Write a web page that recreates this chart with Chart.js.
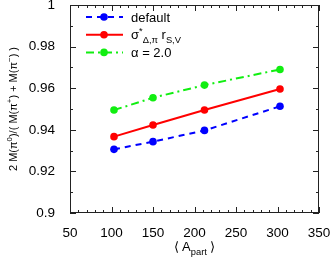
<!DOCTYPE html>
<html lang="en">
<head>
    <meta charset="UTF-8">
    <title>pi0 / charged pion mass ratio</title>
    <script src="https://cdn.jsdelivr.net/npm/chart.js"></script>
    <style>
        body { margin: 0; background: #fff; }
        .chart-container { width: 332px; height: 258px; position: relative; }
    </style>
</head>
<body>
    <div class="chart-container">
        <canvas id="ratioChart"></canvas>
    </div>
<script>
// datos
const aPart = [103, 150, 212, 303];
const ratioDefault = [0.9306, 0.9343, 0.9397, 0.9513];
const ratioSigma = [0.9367, 0.9423, 0.9495, 0.9596];
const ratioAlpha = [0.9495, 0.9554, 0.9615, 0.9690];
const xTicks = [50, 100, 150, 200, 250, 300, 350];
const yTicks = [0.9, 0.92, 0.94, 0.96, 0.98, 1];

const FONT = '"Liberation Sans", Arial, sans-serif';
const BLUE = '#0000ff', RED = '#ff0000', GREEN = '#11ee11';

// texto con sub/superindices: segmentos {t, s:'sub'|'sup'|undefined}
function richWidth(ctx, segs, size) {
    let w = 0;
    segs.forEach(sg => {
        ctx.font = (sg.s ? size * 0.72 : size) + 'px ' + FONT;
        w += ctx.measureText(sg.t).width;
    });
    return w;
}
function drawRich(ctx, segs, x, y, size) {
    ctx.textBaseline = 'alphabetic';
    ctx.textAlign = 'left';
    segs.forEach(sg => {
        let dy = 0;
        if (sg.s === 'sub') dy = size * 0.3;
        if (sg.s === 'sup') dy = -size * 0.42;
        ctx.font = (sg.s ? size * 0.72 : size) + 'px ' + FONT;
        ctx.fillText(sg.t, x, y + dy);
        x += ctx.measureText(sg.t).width;
    });
}

const legendItems = [
    { color: BLUE, dash: [6, 5], segs: [{ t: 'default' }] },
    { color: RED, dash: [], segs: [{ t: 'σ' }, { t: '*', s: 'sup' }, { t: 'Δ,π', s: 'sub' }, { t: ' r' }, { t: 'S,V', s: 'sub' }] },
    { color: GREEN, dash: [8, 4, 2, 4], segs: [{ t: 'α = 2.0' }] }
];

const gnuplotFrame = {
    id: 'gnuplotFrame',
    afterDraw(chart) {
        const ctx = chart.ctx;
        const a = chart.chartArea;
        const xs = chart.scales.x, ys = chart.scales.y;
        ctx.save();
        ctx.strokeStyle = '#222';
        ctx.lineWidth = 1;
        ctx.setLineDash([]);
        // marco
        ctx.strokeRect(a.left + 0.5, a.top + 0.5, a.right - a.left - 1, a.bottom - a.top - 1);
        // marcas hacia dentro en los cuatro lados
        ctx.beginPath();
        for (let v = 50; v <= 350; v += 10) {
            const len = (v % 50 === 0) ? 6 : 3;
            const px = Math.round(xs.getPixelForValue(v)) + 0.5;
            ctx.moveTo(px, a.bottom); ctx.lineTo(px, a.bottom - len);
            ctx.moveTo(px, a.top); ctx.lineTo(px, a.top + len);
        }
        for (let i = 0; i <= 10; i++) {
            const v = 0.9 + i * 0.01;
            const len = (i % 2 === 0) ? 6 : 3;
            const py = Math.round(ys.getPixelForValue(v)) + 0.5;
            ctx.moveTo(a.left, py); ctx.lineTo(a.left + len, py);
            ctx.moveTo(a.right, py); ctx.lineTo(a.right - len, py);
        }
        ctx.stroke();

        // leyenda
        legendItems.forEach((it, i) => {
            const y = 17 + i * 17.7;
            ctx.strokeStyle = it.color;
            ctx.lineWidth = 2;
            ctx.setLineDash(it.dash);
            ctx.beginPath();
            ctx.moveTo(86, y); ctx.lineTo(123, y);
            ctx.stroke();
            ctx.setLineDash([]);
            ctx.fillStyle = it.color;
            ctx.beginPath();
            ctx.arc(104, y, 3.8, 0, Math.PI * 2);
            ctx.fill();
            ctx.fillStyle = '#000';
            drawRich(ctx, it.segs, 131, y + 4.5, 13);
        });

        // titulo eje x
        const xt = [{ t: '⟨ A' }, { t: 'part', s: 'sub' }, { t: ' ⟩' }];
        const cx = (a.left + a.right) / 2;
        ctx.fillStyle = '#000';
        drawRich(ctx, xt, cx - richWidth(ctx, xt, 13) / 2, 251, 13);

        // titulo eje y
        const yt = [{ t: '2 M(π' }, { t: '0', s: 'sup' }, { t: ')/( M(π' }, { t: '+', s: 'sup' }, { t: ') + M(π' }, { t: '−', s: 'sup' }, { t: ') )' }];
        ctx.translate(16.5, (a.top + a.bottom) / 2);
        ctx.rotate(-Math.PI / 2);
        drawRich(ctx, yt, -richWidth(ctx, yt, 11) / 2, 0, 11);
        ctx.restore();
    }
};

const ctx = document.getElementById('ratioChart').getContext('2d');
const ratioChart = new Chart(ctx, {
    type: 'line',
    data: {
        datasets: [
            { label: 'default', data: aPart.map((x, i) => ({ x: x, y: ratioDefault[i] })),
              borderColor: BLUE, backgroundColor: BLUE, borderDash: [6, 5] },
            { label: 'sigma', data: aPart.map((x, i) => ({ x: x, y: ratioSigma[i] })),
              borderColor: RED, backgroundColor: RED, borderDash: [] },
            { label: 'alpha', data: aPart.map((x, i) => ({ x: x, y: ratioAlpha[i] })),
              borderColor: GREEN, backgroundColor: GREEN, borderDash: [8, 4, 2, 4] }
        ]
    },
    options: {
        responsive: true,
        maintainAspectRatio: false,
        animation: false,
        layout: { padding: { top: 5, right: 13, left: 0, bottom: 0 } },
        elements: {
            line: { borderWidth: 2, tension: 0 },
            point: { radius: 3.8, borderWidth: 0, pointStyle: 'circle' }
        },
        plugins: {
            legend: { display: false },
            tooltip: { enabled: false }
        },
        scales: {
            x: {
                type: 'linear', min: 50, max: 350,
                afterBuildTicks: s => { s.ticks = xTicks.map(v => ({ value: v })); },
                afterFit: s => { s.height = 45; s.paddingLeft = 0; s.paddingRight = 0; },
                grid: { display: false },
                border: { display: false },
                ticks: { color: '#000', font: { family: FONT, size: 13.5 }, padding: 4, maxRotation: 0 }
            },
            y: {
                type: 'linear', min: 0.9, max: 1,
                afterBuildTicks: s => { s.ticks = yTicks.map(v => ({ value: v })); },
                afterFit: s => { s.width = 70; s.paddingTop = 0; s.paddingBottom = 0; },
                grid: { display: false },
                border: { display: false },
                ticks: { color: '#000', font: { family: FONT, size: 13.5 }, padding: 7,
                         callback: v => String(+v.toFixed(2)) }
            }
        }
    },
    plugins: [gnuplotFrame]
});
</script>
</body>
</html>
